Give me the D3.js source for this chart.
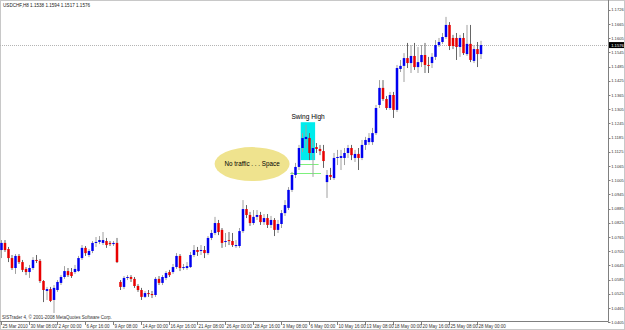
<!DOCTYPE html>
<html>
<head>
<meta charset="utf-8">
<script src="https://cdn.jsdelivr.net/npm/d3@7"></script>
<style>
  html, body { margin: 0; padding: 0; background: #fff; }
  svg { display: block; }
</style>
</head>
<body>
<svg id="chart" width="625" height="330"></svg>
<script>
// USDCHF H8, 25 Mar 16:00 .. 28 May 08:00 2010 (138 bars)
const openP = [
  1.0710, 1.0740, 1.0714, 1.0676, 1.0634, 1.0685, 1.0659, 1.0630, 1.0617, 1.0634,
  1.0668, 1.0664, 1.0579, 1.0537, 1.0545, 1.0499, 1.0541, 1.0571, 1.0596, 1.0621,
  1.0617, 1.0617, 1.0621, 1.0676, 1.0719, 1.0689, 1.0706, 1.0740, 1.0744, 1.0740,
  1.0748, 1.0740, 1.0735, 1.0740, 1.0575, 1.0554, 1.0592, 1.0596, 1.0588, 1.0558,
  1.0541, 1.0512, 1.0528, 1.0524, 1.0520, 1.0588, 1.0571, 1.0592, 1.0617, 1.0617,
  1.0638, 1.0685, 1.0634, 1.0634, 1.0638, 1.0689, 1.0710, 1.0706, 1.0710, 1.0697,
  1.0761, 1.0782, 1.0824, 1.0795, 1.0744, 1.0752, 1.0748, 1.0727, 1.0727, 1.0790,
  1.0883, 1.0858, 1.0824, 1.0850, 1.0858, 1.0828, 1.0845, 1.0816, 1.0837, 1.0795,
  1.0820, 1.0866, 1.0888, 1.0964, 1.1027, 1.1061, 1.1141, 1.1179, 1.1183, 1.1120,
  1.1145, 1.1137, 1.1128, 1.0997, 1.1027, 1.1014, 1.1099, 1.1099, 1.1099, 1.1120,
  1.1141, 1.1099, 1.1116, 1.1099, 1.1154, 1.1166, 1.1166, 1.1204, 1.1323, 1.1395,
  1.1348, 1.1310, 1.1365, 1.1302, 1.1475, 1.1488, 1.1521, 1.1500, 1.1530, 1.1483,
  1.1504, 1.1534, 1.1492, 1.1500, 1.1526, 1.1576, 1.1589, 1.1610, 1.1661, 1.1606,
  1.1606, 1.1568, 1.1606, 1.1538, 1.1581, 1.1509, 1.1559, 1.1538
];
const highP = [
  1.0752, 1.0752, 1.0723, 1.0689, 1.0693, 1.0693, 1.0668, 1.0638, 1.0647, 1.0680,
  1.0689, 1.0672, 1.0583, 1.0554, 1.0554, 1.0562, 1.0583, 1.0604, 1.0642, 1.0634,
  1.0634, 1.0647, 1.0685, 1.0731, 1.0727, 1.0714, 1.0748, 1.0765, 1.0769, 1.0786,
  1.0761, 1.0748, 1.0748, 1.0761, 1.0583, 1.0600, 1.0604, 1.0604, 1.0596, 1.0566,
  1.0550, 1.0537, 1.0541, 1.0537, 1.0596, 1.0600, 1.0604, 1.0621, 1.0626, 1.0651,
  1.0697, 1.0693, 1.0651, 1.0659, 1.0702, 1.0731, 1.0723, 1.0731, 1.0727, 1.0769,
  1.0795, 1.0850, 1.0837, 1.0803, 1.0782, 1.0786, 1.0782, 1.0752, 1.0803, 1.0921,
  1.0900, 1.0871, 1.0879, 1.0879, 1.0871, 1.0862, 1.0862, 1.0854, 1.0845, 1.0837,
  1.0879, 1.0921, 1.0976, 1.1040, 1.1078, 1.1154, 1.1204, 1.1238, 1.1204, 1.1175,
  1.1162, 1.1154, 1.1154, 1.1048, 1.1057, 1.1120, 1.1133, 1.1133, 1.1141, 1.1154,
  1.1154, 1.1133, 1.1141, 1.1175, 1.1188, 1.1204, 1.1226, 1.1323, 1.1428, 1.1428,
  1.1361, 1.1378, 1.1378, 1.1492, 1.1513, 1.1542, 1.1585, 1.1576, 1.1585, 1.1568,
  1.1576, 1.1585, 1.1526, 1.1542, 1.1597, 1.1606, 1.1627, 1.1695, 1.1673, 1.1619,
  1.1627, 1.1619, 1.1627, 1.1661, 1.1661, 1.1576, 1.1589, 1.1594
];
const lowP = [
  1.0676, 1.0702, 1.0659, 1.0626, 1.0609, 1.0651, 1.0617, 1.0604, 1.0592, 1.0626,
  1.0655, 1.0571, 1.0490, 1.0499, 1.0490, 1.0444, 1.0533, 1.0562, 1.0588, 1.0596,
  1.0592, 1.0609, 1.0617, 1.0668, 1.0685, 1.0680, 1.0697, 1.0723, 1.0735, 1.0731,
  1.0719, 1.0727, 1.0727, 1.0655, 1.0541, 1.0545, 1.0583, 1.0575, 1.0550, 1.0533,
  1.0499, 1.0507, 1.0512, 1.0507, 1.0512, 1.0562, 1.0562, 1.0583, 1.0596, 1.0609,
  1.0630, 1.0621, 1.0626, 1.0626, 1.0634, 1.0680, 1.0685, 1.0689, 1.0676, 1.0689,
  1.0752, 1.0773, 1.0773, 1.0719, 1.0723, 1.0731, 1.0723, 1.0719, 1.0719, 1.0782,
  1.0845, 1.0812, 1.0816, 1.0837, 1.0816, 1.0816, 1.0803, 1.0803, 1.0769, 1.0782,
  1.0803, 1.0854, 1.0879, 1.0955, 1.1014, 1.1048, 1.1124, 1.1141, 1.1090, 1.1019,
  1.1120, 1.1111, 1.1057, 1.0930, 1.1006, 1.1006, 1.1069, 1.1048, 1.1069, 1.1099,
  1.1090, 1.1082, 1.1048, 1.1090, 1.1133, 1.1154, 1.1154, 1.1196, 1.1310, 1.1340,
  1.1302, 1.1302, 1.1268, 1.1293, 1.1462, 1.1420, 1.1479, 1.1458, 1.1471, 1.1458,
  1.1483, 1.1458, 1.1458, 1.1479, 1.1513, 1.1568, 1.1581, 1.1602, 1.1555, 1.1559,
  1.1513, 1.1526, 1.1534, 1.1530, 1.1504, 1.1500, 1.1483, 1.1517
];
const closeP = [
  1.0740, 1.0710, 1.0676, 1.0634, 1.0685, 1.0659, 1.0626, 1.0617, 1.0634, 1.0668,
  1.0664, 1.0579, 1.0541, 1.0545, 1.0495, 1.0550, 1.0575, 1.0596, 1.0621, 1.0604,
  1.0600, 1.0630, 1.0676, 1.0719, 1.0697, 1.0706, 1.0740, 1.0744, 1.0752, 1.0752,
  1.0731, 1.0735, 1.0740, 1.0659, 1.0554, 1.0592, 1.0596, 1.0588, 1.0558, 1.0541,
  1.0512, 1.0528, 1.0524, 1.0520, 1.0588, 1.0571, 1.0596, 1.0613, 1.0604, 1.0638,
  1.0685, 1.0634, 1.0638, 1.0642, 1.0689, 1.0710, 1.0702, 1.0710, 1.0697, 1.0761,
  1.0782, 1.0824, 1.0786, 1.0740, 1.0748, 1.0748, 1.0731, 1.0731, 1.0790, 1.0883,
  1.0858, 1.0824, 1.0850, 1.0858, 1.0828, 1.0845, 1.0816, 1.0837, 1.0795, 1.0820,
  1.0866, 1.0900, 1.0964, 1.1027, 1.1061, 1.1141, 1.1183, 1.1188, 1.1120, 1.1141,
  1.1137, 1.1128, 1.1086, 1.1027, 1.1019, 1.1099, 1.1103, 1.1107, 1.1120, 1.1141,
  1.1111, 1.1116, 1.1099, 1.1154, 1.1175, 1.1183, 1.1204, 1.1310, 1.1395, 1.1348,
  1.1310, 1.1365, 1.1302, 1.1479, 1.1488, 1.1521, 1.1500, 1.1530, 1.1483, 1.1504,
  1.1534, 1.1492, 1.1488, 1.1526, 1.1576, 1.1589, 1.1610, 1.1661, 1.1572, 1.1572,
  1.1568, 1.1606, 1.1542, 1.1581, 1.1513, 1.1559, 1.1538, 1.1576
];

const xTickIdx = [0, 8, 16, 24, 32, 40, 48, 56, 64, 72, 80, 88, 96, 104, 112, 120, 128, 136];
const xTickLabels = [
  "25 Mar 2010", "30 Mar 08:00", "2 Apr 00:00", "6 Apr 16:00", "9 Apr 08:00",
  "14 Apr 00:00", "16 Apr 16:00", "21 Apr 08:00", "26 Apr 00:00", "28 Apr 16:00",
  "3 May 08:00", "6 May 00:00", "10 May 16:00", "13 May 08:00", "18 May 00:00",
  "20 May 16:00", "25 May 08:00", "28 May 00:00"
];
const yTickValues = [
  1.1726, 1.1665, 1.1605, 1.1545, 1.1485, 1.1425, 1.1365, 1.1305, 1.1245, 1.1185,
  1.1125, 1.1065, 1.1005, 1.0945, 1.0885, 1.0825, 1.0765, 1.0705, 1.0645, 1.0585,
  1.0525, 1.0465, 1.0405
];
const symbolTitle = "USDCHF,H8  1.1538 1.1594 1.1517 1.1576";
const lastPrice = 1.1576;

(function() {
  if (document.readyState === "loading") {
    document.addEventListener("DOMContentLoaded", init);
  } else {
    init();
  }

  function init() {
    const UP = "#0000f0";
    const DOWN = "#e80000";
    const WICK_UP = "#a0a0a0";
    const WICK_DOWN = "#666666";
    const FONT = "Liberation Sans, Arial, sans-serif";

    const width = 625, height = 330;
    const plotRight = 608, plotBottom = 321;

    const svg = d3.select("#chart")
      .attr("viewBox", `0 0 ${width} ${height}`);

    svg.append("rect")
      .attr("x", 0.5).attr("y", 0.5)
      .attr("width", width - 1).attr("height", height - 1)
      .attr("fill", "#fff")
      .attr("stroke", "#c8c8c8");

    const bars = closeP.map((c, i) => ({ i, o: openP[i], h: highP[i], l: lowP[i], c }));

    const x = d3.scaleLinear()
      .domain([0, bars.length - 1])
      .range([1.5, 1.5 + 3.5 * (bars.length - 1)]);

    const y = d3.scaleLinear()
      .domain([1.0405, 1.1665])
      .range([322.2, 24]);

    svg.append("clipPath").attr("id", "plot-clip")
      .append("rect")
      .attr("x", 0).attr("y", 0)
      .attr("width", plotRight).attr("height", plotBottom);

    const plot = svg.append("g").attr("clip-path", "url(#plot-clip)");

    // current price line
    plot.append("line")
      .attr("x1", 0).attr("x2", plotRight)
      .attr("y1", Math.round(y(lastPrice)) + 0.5)
      .attr("y2", Math.round(y(lastPrice)) + 0.5)
      .attr("stroke", "#b4b4b4")
      .attr("stroke-dasharray", "1 1");

    // annotations (time / price anchored, like terminal objects)
    plot.append("ellipse")
      .attr("cx", x(71.6)).attr("cy", y(1.1073))
      .attr("rx", 37.5).attr("ry", 17)
      .attr("fill", "#efe38e");

    plot.append("text")
      .attr("x", x(71.6)).attr("y", y(1.1073) + 2.2)
      .attr("text-anchor", "middle")
      .attr("font-family", FONT)
      .attr("font-size", 6.3)
      .attr("fill", "#000")
      .text("No traffic . . . Space");

    plot.append("rect")
      .attr("x", x(85.5)).attr("y", y(1.1250))
      .attr("width", x(89.6) - x(85.5))
      .attr("height", y(1.1090) - y(1.1250))
      .attr("fill", "#00ecec");

    plot.append("text")
      .attr("x", x(87.6)).attr("y", y(1.1273) + 2.3)
      .attr("text-anchor", "middle")
      .attr("font-family", FONT)
      .attr("font-size", 6.6)
      .attr("fill", "#000")
      .text("Swing High");

    const greenLines = [
      { i0: 85.1, i1: 90.6, p: 1.1073 },
      { i0: 82.5, i1: 91.3, p: 1.1034 }
    ];
    plot.selectAll("line.green")
      .data(greenLines)
      .join("line")
      .attr("class", "green")
      .attr("x1", d => x(d.i0)).attr("x2", d => x(d.i1))
      .attr("y1", d => Math.round(y(d.p)) + 0.5)
      .attr("y2", d => Math.round(y(d.p)) + 0.5)
      .attr("stroke", "#7cf07c");

    // candles
    plot.selectAll("line.wick")
      .data(bars)
      .join("line")
      .attr("class", "wick")
      .attr("x1", d => x(d.i)).attr("x2", d => x(d.i))
      .attr("y1", d => y(d.h)).attr("y2", d => y(d.l))
      .attr("stroke", d => d.c >= d.o ? WICK_UP : WICK_DOWN)
      .attr("stroke-width", 1);

    plot.selectAll("rect.body")
      .data(bars)
      .join("rect")
      .attr("class", "body")
      .attr("x", d => x(d.i) - 1.25)
      .attr("width", 2.5)
      .attr("y", d => y(Math.max(d.o, d.c)))
      .attr("height", d => Math.max(1, Math.abs(y(d.o) - y(d.c))))
      .attr("fill", d => d.c >= d.o ? UP : DOWN);

    // frame
    svg.append("line")
      .attr("x1", plotRight + 0.5).attr("x2", plotRight + 0.5)
      .attr("y1", 0).attr("y2", plotBottom + 0.5)
      .attr("stroke", "#808080");
    svg.append("line")
      .attr("x1", 0).attr("x2", plotRight + 0.5)
      .attr("y1", plotBottom + 0.5).attr("y2", plotBottom + 0.5)
      .attr("stroke", "#808080");

    // price scale
    const yAxis = svg.append("g");
    yAxis.selectAll("line")
      .data(yTickValues)
      .join("line")
      .attr("x1", plotRight).attr("x2", plotRight + 2.5)
      .attr("y1", d => Math.round(y(d)) + 0.5)
      .attr("y2", d => Math.round(y(d)) + 0.5)
      .attr("stroke", "#808080");
    yAxis.selectAll("text")
      .data(yTickValues)
      .join("text")
      .attr("x", plotRight + 3.2)
      .attr("y", d => y(d) + 1.5)
      .attr("font-family", FONT)
      .attr("font-size", 4.1)
      .attr("fill", "#333")
      .text(d => d.toFixed(4));

    // current price tag
    const tagY = y(lastPrice);
    svg.append("rect")
      .attr("x", plotRight + 1).attr("y", tagY - 3)
      .attr("width", width - plotRight - 2).attr("height", 6)
      .attr("fill", "#000");
    svg.append("text")
      .attr("x", plotRight + 3.2).attr("y", tagY + 1.5)
      .attr("font-family", FONT)
      .attr("font-size", 4.1)
      .attr("fill", "#fff")
      .text(lastPrice.toFixed(4));

    // time scale
    const xAxis = svg.append("g");
    xAxis.selectAll("line")
      .data(xTickIdx)
      .join("line")
      .attr("x1", d => Math.round(x(d)) - 0.5).attr("x2", d => Math.round(x(d)) - 0.5)
      .attr("y1", plotBottom).attr("y2", plotBottom + 4)
      .attr("stroke", "#808080");
    xAxis.selectAll("text")
      .data(xTickIdx)
      .join("text")
      .attr("x", d => x(d) + 1)
      .attr("y", plotBottom + 6.6)
      .attr("font-family", FONT)
      .attr("font-size", 4.5)
      .attr("fill", "#333")
      .text((d, k) => xTickLabels[k]);

    // header and footer text
    svg.append("text")
      .attr("x", 3).attr("y", 7)
      .attr("font-family", FONT)
      .attr("font-size", 4.6)
      .attr("fill", "#222")
      .text(symbolTitle);

    svg.append("text")
      .attr("x", 2).attr("y", plotBottom - 2)
      .attr("font-family", FONT)
      .attr("font-size", 4.5)
      .attr("fill", "#333")
      .text("SISTrader 4, \u00a9 2001-2008 MetaQuotes Software Corp.");
  }
})();
</script>
</body>
</html>
